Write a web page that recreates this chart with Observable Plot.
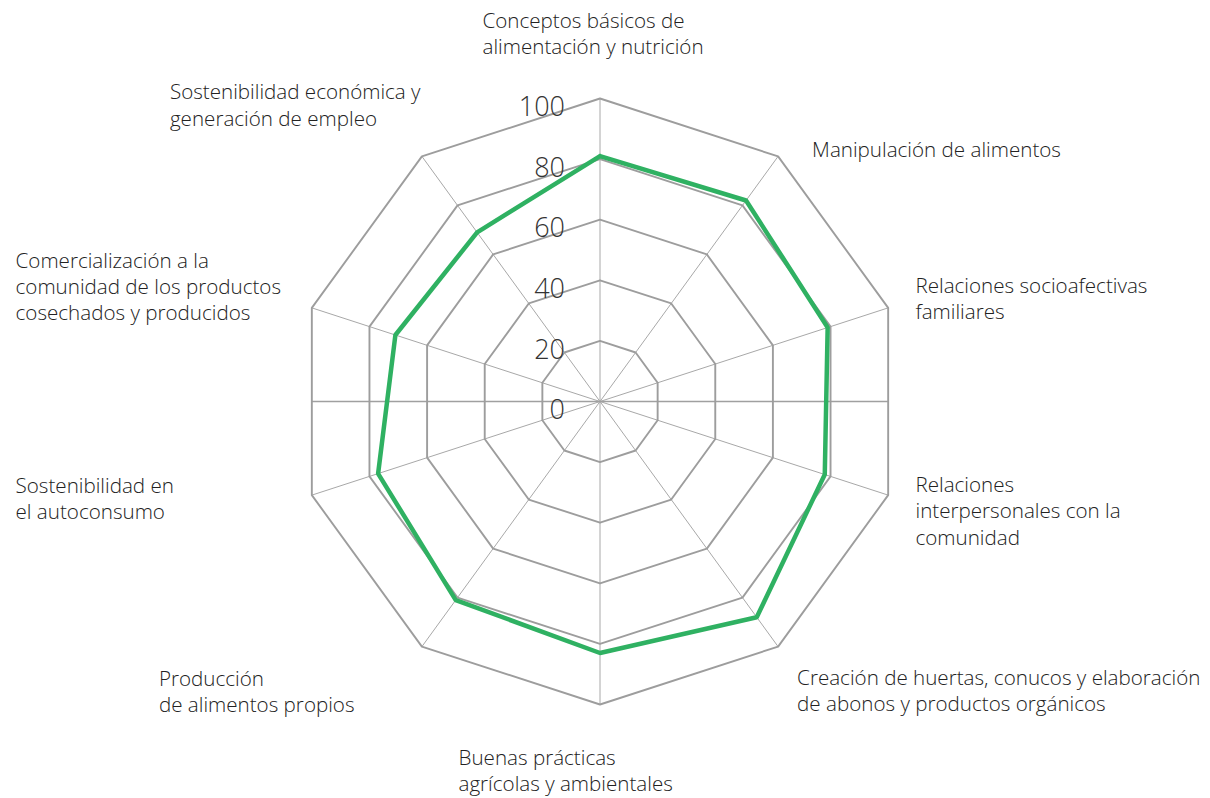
<!DOCTYPE html>
<html>
<head>
<meta charset="utf-8">
<script src="https://cdn.jsdelivr.net/npm/d3@7"></script>
<script src="https://cdn.jsdelivr.net/npm/@observablehq/plot@0.6"></script>
<style>
  html, body { margin: 0; padding: 0; background: #fff; }
  #chart { width: 1210px; height: 798px; }
</style>
</head>
<body>
<div id="chart"></div>
<script>
// ---- data ----
const categories = [
  "Conceptos básicos de\nalimentación y nutrición",
  "Manipulación de alimentos",
  "Relaciones socioafectivas\nfamiliares",
  "Relaciones\ninterpersonales con la\ncomunidad",
  "Creación de huertas, conucos y elaboración\nde abonos y productos orgánicos",
  "Buenas prácticas\nagrícolas y ambientales",
  "Producción\nde alimentos propios",
  "Sostenibilidad en\nel autoconsumo",
  "Comercialización a la\ncomunidad de los productos\ncosechados y producidos",
  "Sostenibilidad económica y\ngeneración de empleo"
];
const values = [81, 82, 79, 78, 88, 83, 81, 77, 71, 69];
const ticks = [0, 20, 40, 60, 80, 100];

// label offsets (pixels) from the tip of each axis at 100
const labelDx = [-117.5, 34, 27.3, 27.3, 19, -141.5, -263, -296.3, -296.3, -252];
const labelDy = [-89.5, -17.5, -33.5, -21.5, 20, 41.5, 21, -21, -58.5, -75.5];

// ---- geometry ----
const W = 1210, H = 798;
const cx = 599.5, cy = 401, R = 303; // pixel center and radius of 100
const k = R / 100;
const n = categories.length;
const ang = i => (i * 2 * Math.PI) / n;
const px = (i, v) => v * Math.sin(ang(i));
const py = (i, v) => v * Math.cos(ang(i));

const rings = ticks.filter(t => t > 0).flatMap(t =>
  d3.range(n).map(j => ({ t, x: px(j, t), y: py(j, t) }))
);
const spokes = categories.map((c, i) => ({ i, x2: px(i, 100), y2: py(i, 100) }));
const series = d3.range(n + 1).map(j => ({ x: px(j % n, values[j % n]), y: py(j % n, values[j % n]) }));
const labels = categories.map((c, i) => ({ c, i, x: px(i, 100), y: py(i, 100) }));
const tickLabels = ticks.map(t => ({ t, x: 0, y: t }));
const hw = 100 * Math.sin(ang(2));

const font = "'Open Sans', 'Noto Sans', sans-serif";

const plot = Plot.plot({
  width: W,
  height: H,
  margin: 0,
  x: { domain: [-cx / k, (W - cx) / k], range: [0, W], axis: null },
  y: { domain: [-(H - cy) / k, cy / k], range: [H, 0], axis: null },
  style: { fontFamily: font, background: "#fff" },
  marks: [
    Plot.link(spokes, { x1: 0, y1: 0, x2: "x2", y2: "y2", stroke: "#a8a8a8", strokeWidth: 1 }),
    Plot.link([{ a: -hw, b: hw }], { x1: "a", y1: 0, x2: "b", y2: 0, stroke: "#a0a0a0", strokeWidth: 1.3 }),
    Plot.line(rings, { x: "x", y: "y", z: "t", stroke: "#9d9d9d", strokeWidth: 1.9, curve: "linear-closed" }),
    Plot.text(tickLabels, {
      x: "x", y: "y", text: d => String(d.t), textAnchor: "end",
      dx: -35, dy: 9, fontSize: 27, fontWeight: 300, fill: "#333",
      fontStretch: "semi-condensed"
    }),
    Plot.line(series, { x: "x", y: "y", stroke: "#2fb162", strokeWidth: 4.5, strokeLinejoin: "miter" }),
    ...labels.map((d, i) => Plot.text([d], {
      x: "x", y: "y", text: "c", textAnchor: "start", lineAnchor: "top",
      dx: labelDx[i], dy: labelDy[i],
      fontSize: 20.6, fontWeight: 300, fill: "#222", lineHeight: 1.27
    }))
  ]
});

document.getElementById("chart").appendChild(plot);
</script>
</body>
</html>
